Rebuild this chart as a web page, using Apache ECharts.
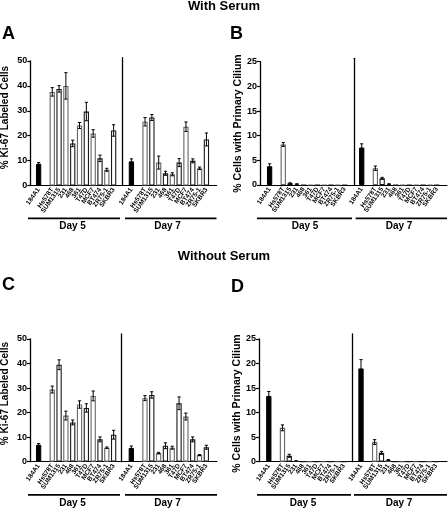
<!DOCTYPE html>
<html><head><meta charset="utf-8">
<script src="https://cdn.jsdelivr.net/npm/echarts@6/dist/echarts.min.js"></script>
<style>html,body{margin:0;padding:0;background:#fff}#c{width:448px;height:508px}</style>
</head><body><div id="c"></div><script>
// ---- data ----
const categories = ['184A1','','Hs578T','SUM1315','231','468','361','T47D','MCF7','BT474','ZR75-1','SKBR3'];
const dayLabels = ['Day 5','Day 7'];
const sectionTitles = ['With Serum','Without Serum'];
const panelLetters = ['A','B','C','D'];
const yTitles = ['% Ki-67 Labeled Cells','% Cells with Primary Cilium','% Ki-67 Labeled Cells','% Cells with Primary Cilium'];

const A_day5     = [8.7, null, 37.6, 38.8, 40.0, 16.9, 24.1, 29.7, 20.9, 10.9, 6.3, 22.1];
const A_day5_err = [0.5, null, 1.7, 1.3, 5.3, 1.3, 1.2, 3.7, 1.5, 1.3, 0.6, 2.3];
const A_day7     = [9.7, null, 25.6, 27.3, 9.2, 4.9, 4.5, 9.2, 23.6, 9.9, 6.9, 18.5];
const A_day7_err = [1.0, null, 1.7, 1.2, 2.6, 0.8, 0.6, 1.6, 1.9, 0.8, 0.5, 2.6];

const B_day5     = [3.8, null, 8.2, 0.35, 0.2, 0, 0, 0, 0, 0, 0, 0];
const B_day5_err = [0.5, null, 0.4, 0.1, 0.05, 0, 0, 0, 0, 0, 0, 0];
const B_day7     = [7.6, null, 3.4, 1.35, 0.2, 0, 0, 0, 0, 0, 0, 0];
const B_day7_err = [0.75, null, 0.45, 0.2, 0.05, 0, 0, 0, 0, 0, 0, 0];

const C_day5     = [6.9, null, 29.4, 39.5, 18.8, 16.0, 23.3, 21.9, 26.8, 9.1, 5.7, 11.0];
const C_day5_err = [0.5, null, 1.4, 2.0, 1.8, 1.0, 1.5, 1.7, 2.0, 1.0, 0.3, 1.8];
const C_day7     = [5.6, null, 25.9, 27.2, 3.5, 6.5, 5.7, 23.8, 18.4, 9.1, 2.7, 5.9];
const C_day7_err = [0.8, null, 1.0, 1.3, 0.3, 1.2, 0.6, 2.6, 1.4, 1.0, 0.2, 0.8];

const D_day5     = [13.4, null, 6.9, 1.2, 0.15, 0, 0, 0, 0, 0, 0, 0];
const D_day5_err = [0.9, null, 0.6, 0.3, 0.05, 0, 0, 0, 0, 0, 0, 0];
const D_day7     = [19.0, null, 4.0, 1.8, 0.35, 0, 0, 0, 0, 0, 0, 0];
const D_day7_err = [1.8, null, 0.5, 0.3, 0.1, 0, 0, 0, 0, 0, 0, 0];

const yMax = [50, 25, 50, 25];
const yInterval = [10, 5, 10, 5];

// ---- layout ----
const SLOT = 6.82;
const panels = [
  {ax: 30.3, d5: 35.2, d7: 128.0, div: 122.3, top: 61, bot: 185.5, divTop: 57.7, baseR: 216.7,
   vals: [A_day5, A_day7], errs: [A_day5_err, A_day7_err], titleX: 5, titleY: 117.5, titleSize: 10,
   lines: [[28,120],[125,216.5]], lineY: 218.3, textY: 226.5, textX: [72.5,167.5], letter: [2, 34]},
  {ax: 260, d5: 266.2, d7: 358.3, div: 354, top: 61.7, bot: 185, divTop: 58.3, baseR: 447,
   vals: [B_day5, B_day7], errs: [B_day5_err, B_day7_err], titleX: 238, titleY: 123.5, titleSize: 10.5,
   lines: [[257,352],[355.7,447]], lineY: 218.3, textY: 226.5, textX: [305,399], letter: [230, 34]},
  {ax: 30, d5: 35.2, d7: 127.9, div: 121.7, top: 339, bot: 461.7, divTop: 334, baseR: 217,
   vals: [C_day5, C_day7], errs: [C_day5_err, C_day7_err], titleX: 5, titleY: 393.5, titleSize: 10,
   lines: [[28,120],[125,217]], lineY: 494.8, textY: 503, textX: [72.5,167.5], letter: [2, 285]},
  {ax: 259, d5: 265.4, d7: 357.6, div: 352.3, top: 339, bot: 461.7, divTop: 334, baseR: 447,
   vals: [D_day5, D_day7], errs: [D_day5_err, D_day7_err], titleX: 237, titleY: 403.5, titleSize: 10.5,
   lines: [[257,351],[354,447]], lineY: 494.8, textY: 503, textX: [303,399], letter: [231, 287]}
];

const FONT = 'Liberation Sans, Arial, sans-serif';
const grid = [], xAxis = [], yAxis = [], series = [], graphic = [];

function errRender(params, api) {
  const x = api.value(0), v = api.value(1), e = api.value(2);
  if (!e) return null;
  const t = api.coord([x, v + e]), b = api.coord([x, v - e]);
  const hw = 1.6;
  const st = {stroke: '#000', lineWidth: 1};
  return {type: 'group', children: [
    {type: 'line', shape: {x1: t[0], y1: t[1], x2: b[0], y2: b[1]}, style: st},
    {type: 'line', shape: {x1: t[0]-hw, y1: t[1], x2: t[0]+hw, y2: t[1]}, style: st},
    {type: 'line', shape: {x1: b[0]-hw, y1: b[1], x2: b[0]+hw, y2: b[1]}, style: st}
  ]};
}

panels.forEach((p, pi) => {
  const h = p.bot - p.top;
  // baseline grid
  const gb = grid.length;
  grid.push({left: p.ax, width: p.baseR - p.ax, top: p.top, height: h});
  xAxis.push({gridIndex: gb, type: 'value', min: 0, max: 1, axisLine: {show: true, lineStyle: {color: '#000', width: 1.2}},
    axisTick: {show: false}, axisLabel: {show: false}, splitLine: {show: false}});
  yAxis.push({gridIndex: gb, type: 'value', min: 0, max: yMax[pi], show: false, splitLine: {show: false}});

  [0, 1].forEach(d => {
    const gi = grid.length;
    const left = d === 0 ? p.d5 : p.d7;
    const top = d === 0 ? p.top : p.divTop;
    const max = d === 0 ? yMax[pi] : yMax[pi] * (p.bot - p.divTop) / h;
    grid.push({left: left, width: SLOT * 12, top: top, height: p.bot - top});
    xAxis.push({gridIndex: gi, type: 'category', data: categories, boundaryGap: true,
      axisLine: {show: false}, axisTick: {show: false}, splitLine: {show: false},
      axisLabel: {interval: 0, rotate: 55, fontSize: 6.5, fontWeight: 'bold', color: '#000', margin: 3, fontFamily: FONT}});
    const yA = {gridIndex: gi, type: 'value', min: 0, max: max, offset: left - (d === 0 ? p.ax : p.div),
      axisLine: {show: true, lineStyle: {color: '#000', width: 1.3}},
      splitLine: {show: false}};
    if (d === 0) {
      yA.interval = yInterval[pi];
      yA.axisTick = {show: true, length: 3, lineStyle: {color: '#000', width: 1.2}};
      yA.axisLabel = {fontSize: 9, fontWeight: 'bold', color: '#000', margin: 3, fontFamily: FONT};
    } else {
      yA.axisTick = {show: false};
      yA.axisLabel = {show: false};
    }
    yAxis.push(yA);
    const vals = p.vals[d], errs = p.errs[d];
    series.push({type: 'bar', xAxisIndex: gi, yAxisIndex: gi, barWidth: 5.3, silent: true,
      data: vals.map((v, i) => {
        if (v === null) return '-';
        if (i === 0) return {value: v, itemStyle: {color: '#000', borderColor: '#000', borderWidth: 1}};
        return {value: v, itemStyle: {color: '#fff', borderColor: (i % 2 === 0) ? '#666' : '#1a1a1a', borderWidth: 1.1}};
      })});
    series.push({type: 'custom', xAxisIndex: gi, yAxisIndex: gi, z: 5, silent: true, renderItem: errRender,
      data: vals.map((v, i) => v === null ? null : [i, v, errs[i]]).filter(x => x)});
  });

  // y title
  graphic.push({type: 'text', x: p.titleX, y: p.titleY, rotation: Math.PI / 2,
    style: {text: yTitles[pi], align: 'center', verticalAlign: 'middle', fill: '#000',
      font: 'bold ' + p.titleSize + 'px ' + FONT}});
  // day lines and labels
  p.lines.forEach((ln, k) => {
    graphic.push({type: 'line', shape: {x1: ln[0], y1: p.lineY, x2: ln[1], y2: p.lineY},
      style: {stroke: '#000', lineWidth: 1.8}});
    graphic.push({type: 'text', x: p.textX[k], y: p.textY,
      style: {text: dayLabels[k], align: 'center', verticalAlign: 'middle', fill: '#000', font: 'bold 10px ' + FONT}});
  });
  // panel letter
  graphic.push({type: 'text', x: p.letter[0], y: p.letter[1],
    style: {text: panelLetters[pi], align: 'left', verticalAlign: 'middle', fill: '#000', font: 'bold 18px ' + FONT}});
});

graphic.push({type: 'text', x: 224, y: 6, style: {text: sectionTitles[0], align: 'center', verticalAlign: 'middle', fill: '#000', font: 'bold 13px ' + FONT}});
graphic.push({type: 'text', x: 224, y: 256, style: {text: sectionTitles[1], align: 'center', verticalAlign: 'middle', fill: '#000', font: 'bold 13px ' + FONT}});

const chart = echarts.init(document.getElementById('c'), null, {renderer: 'canvas'});
chart.setOption({animation: false, backgroundColor: '#fff', textStyle: {fontFamily: FONT},
  grid: grid, xAxis: xAxis, yAxis: yAxis, series: series, graphic: graphic});
</script></body></html>
